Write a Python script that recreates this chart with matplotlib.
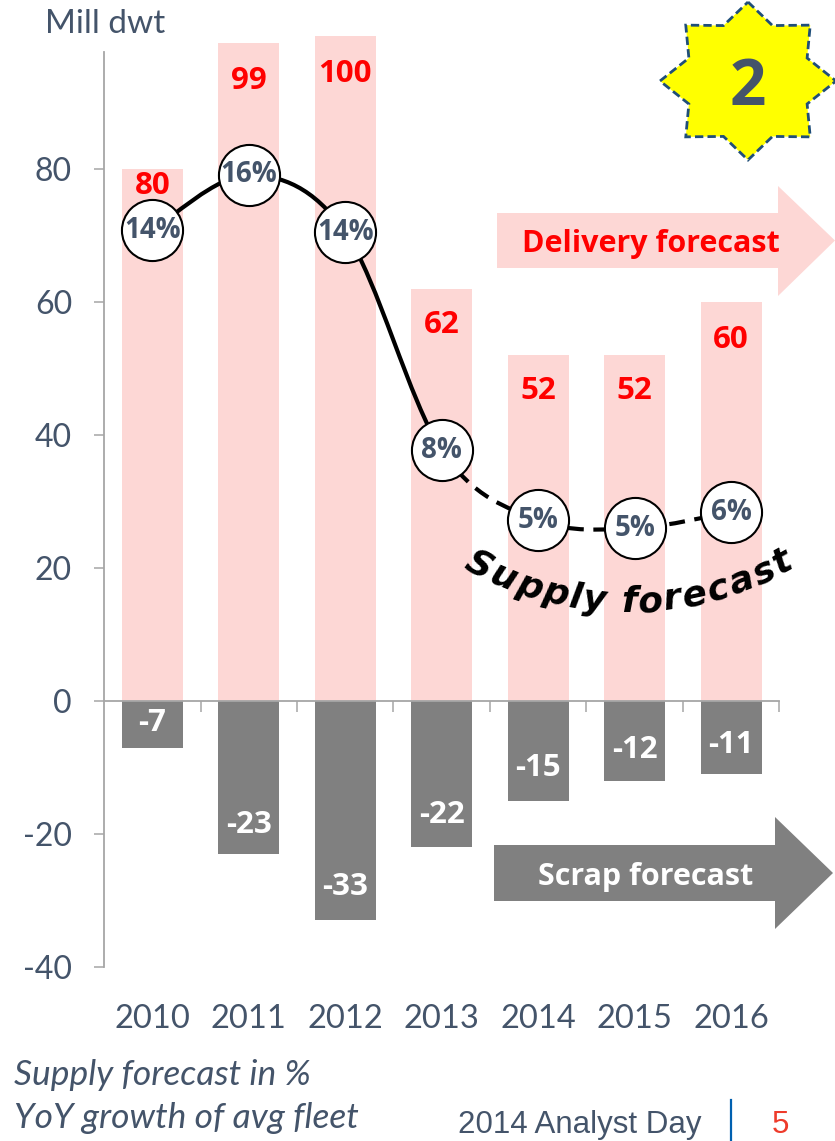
import numpy as np
import matplotlib
matplotlib.use('Agg')
import matplotlib.pyplot as plt
from matplotlib.path import Path
from matplotlib.patches import PathPatch, Polygon
from matplotlib.lines import Line2D
from matplotlib.transforms import blended_transform_factory

# data
years = ['2010', '2011', '2012', '2013', '2014', '2015', '2016']
deliveries = [80, 99, 100, 62, 52, 52, 60]
scrapping = [-7, -23, -33, -22, -15, -12, -11]
supply_pct = ['14%', '16%', '14%', '8%', '5%', '5%', '6%']
# height of the growth bubbles on the Mill dwt scale
supply_pos = [70.8, 79.1, 70.5, 37.7, 27.2, 26.0, 28.4]
yticks = [-40, -20, 0, 20, 40, 60, 80]

W, H = 835, 1141
PINK = '#FDD7D5'
GREY = '#808080'
SLATE = '#44546A'
RED = '#FF0000'
AXIS = '#A6A6A6'
FONT = 'Lato'
BOLD = 'Open Sans'


def fx(x):
    return x / W


def fy(y):
    return 1 - y / H


def smooth_segment(pts, i0, i1):
    # excel-ish smoothed line (catmull-rom as bezier)
    ext = np.vstack([pts[0], pts, pts[-1]])
    verts = [pts[i0]]
    codes = [Path.MOVETO]
    for i in range(i0, i1):
        p0, p1, p2, p3 = ext[i], ext[i + 1], ext[i + 2], ext[i + 3]
        verts += [p1 + (p2 - p0) / 6, p2 - (p3 - p1) / 6, p2]
        codes += [Path.CURVE4] * 3
    return Path(verts, codes)


def arrow(x0, x1, xtip, yb0, yb1, yh0, yh1, color):
    ym = (yb0 + yb1) / 2
    pts = [(x0, yb0), (x1, yb0), (x1, yh0), (xtip, ym), (x1, yh1), (x1, yb1), (x0, yb1)]
    return Polygon([(fx(a), fy(b)) for a, b in pts], closed=True,
                   transform=fig.transFigure, fc=color, ec='none')


fig = plt.figure(figsize=(W / 100, H / 100), dpi=100)
ax = fig.add_axes([fx(104), fy(967), (779.5 - 104) / W, (967 - 36) / H])

x = np.arange(len(years))
ax.bar(x, deliveries, width=0.63, color=PINK, zorder=1)
ax.bar(x, scrapping, width=0.63, color=GREY, zorder=1)
ax.set_xlim(-0.5, 6.5)
ax.set_ylim(-40, 100)

for s in ['top', 'right']:
    ax.spines[s].set_visible(False)
ax.spines['left'].set_bounds(-40, 97.6)
ax.spines['bottom'].set_position(('data', 0))
for s in ['left', 'bottom']:
    ax.spines[s].set_color(AXIS)
    ax.spines[s].set_linewidth(1.3)

ax.set_xticks(np.arange(0.5, 7, 1))
ax.set_xticklabels([])
ax.tick_params(axis='x', direction='out', length=8, width=1.1, color=AXIS)
ax.set_yticks(yticks)
ax.set_yticklabels([str(v) for v in yticks], fontsize=23, color=SLATE, family=FONT)
ax.tick_params(axis='y', direction='out', length=7, width=1.1, color=AXIS, pad=16)

lbl_tr = blended_transform_factory(ax.transData, fig.transFigure)
for xi, yr in zip(x, years):
    ax.text(xi, fy(1028), yr, transform=lbl_tr, ha='center', va='baseline',
            fontsize=23.5, color=SLATE, family=FONT)

# value labels
del_off = [17, 38, 38, 36, 36, 36, 38]
for xi, v, off in zip(x, deliveries, del_off):
    ax.annotate(str(v), (xi, v), xytext=(0, -off * 0.72), textcoords='offset points',
                ha='center', va='center', fontsize=22.5, fontweight='bold', color=RED,
                family=BOLD, zorder=5)
scr_off = [25, 29, 33, 32, 33, 31, 29]
for xi, v, off in zip(x, scrapping, scr_off):
    ax.annotate(str(v), (xi, v), xytext=(0, off * 0.72), textcoords='offset points',
                ha='center', va='center', fontsize=22.5, fontweight='bold', color='white',
                family=BOLD, zorder=5)

# supply growth line + bubbles
pts = np.column_stack([x, supply_pos]).astype(float)
ax.add_patch(PathPatch(smooth_segment(pts, 0, 3), fill=False, lw=3, ec='black', zorder=3))
ax.add_patch(PathPatch(smooth_segment(pts, 3, 6), fill=False, lw=3, ec='black', zorder=3,
                       linestyle=(0, (3.8, 2.3))))
ax.plot(x, supply_pos, 'o', ms=44, mfc='white', mec='black', mew=1.5, zorder=4)
for xi, yi, s in zip(x, supply_pos, supply_pct):
    ax.text(xi, yi, s, ha='center', va='center', fontsize=20, fontweight='bold',
            color=SLATE, family=BOLD, zorder=5)

# arrows
fig.add_artist(arrow(497, 778, 835, 213, 268, 186, 296, PINK))
fig.text(fx(651), fy(252), 'Delivery forecast', ha='center', va='baseline',
         fontsize=22, fontweight='bold', color=RED, family=BOLD)
fig.add_artist(arrow(494, 775, 833, 845, 901, 817, 929, GREY))
fig.text(fx(646), fy(885), 'Scrap forecast', ha='center', va='baseline',
         fontsize=22, fontweight='bold', color='white', family=BOLD)

# star badge
k = np.arange(16)
ang = np.deg2rad(90 - k * 22.5)
rx = np.where(k % 2 == 0, 88, 64)
ry = np.where(k % 2 == 0, 79, 60)
star = Polygon(np.column_stack([fx(748 + rx * np.cos(ang)), fy(81 - ry * np.sin(ang))]),
               closed=True, transform=fig.transFigure, fc='#FFFF00', ec='#1F4E79',
               lw=2, linestyle=(0, (3, 1.5)))
fig.add_artist(star)
fig.text(fx(748), fy(105), '2', ha='center', va='baseline', fontsize=46,
         fontweight='bold', color=SLATE, family=BOLD)

# curved "Supply forecast" label
renderer = fig.canvas.get_renderer()
cprops = dict(family='DejaVu Sans', fontweight='bold', fontstyle='italic', fontsize=26)


def text_w(s):
    t = fig.text(0, 0, s, **cprops)
    w = t.get_window_extent(renderer).width
    t.remove()
    return w


label = 'Supply forecast'
bar_w = text_w('|')
pw = [text_w(label[:i] + '|') - bar_w for i in range(len(label) + 1)]
cx, cy, R = 628, 282, 330
th0, th1 = np.arcsin((462 - cx) / R), np.arcsin((795 - cx) / R)
kscale = R * (th1 - th0) / pw[-1]
for i, ch in enumerate(label):
    if ch == ' ':
        continue
    phi = th0 + (pw[i] + pw[i + 1]) / 2 * kscale / R
    px = cx + R * np.sin(phi)
    py = cy + R * np.cos(phi)
    fig.text(fx(px), fy(py), ch, ha='center', va='baseline', rotation=np.degrees(phi),
             rotation_mode='anchor', color='black', **cprops)

# header / footer text
fig.text(fx(45), fy(33), 'Mill dwt', ha='left', va='baseline', fontsize=24,
         color=SLATE, family=FONT)
fig.text(fx(14), fy(1085), 'Supply forecast in %', ha='left', va='baseline',
         fontsize=25.5, fontstyle='italic', color=SLATE, family=FONT)
fig.text(fx(14), fy(1128), 'YoY growth of avg fleet', ha='left', va='baseline',
         fontsize=25.5, fontstyle='italic', color=SLATE, family=FONT)
fig.text(fx(458), fy(1133), '2014 Analyst Day', ha='left', va='baseline',
         fontsize=22.5, color=SLATE, family='Liberation Sans')
fig.add_artist(Line2D([fx(731), fx(731)], [fy(1100), fy(1141)], transform=fig.transFigure,
                      color='#0060B0', lw=1.6))
fig.text(fx(780), fy(1133), '5', ha='center', va='baseline', fontsize=22.5,
         color='#EE3B2B', family='Liberation Sans')

fig.savefig('out.png', dpi=100)
